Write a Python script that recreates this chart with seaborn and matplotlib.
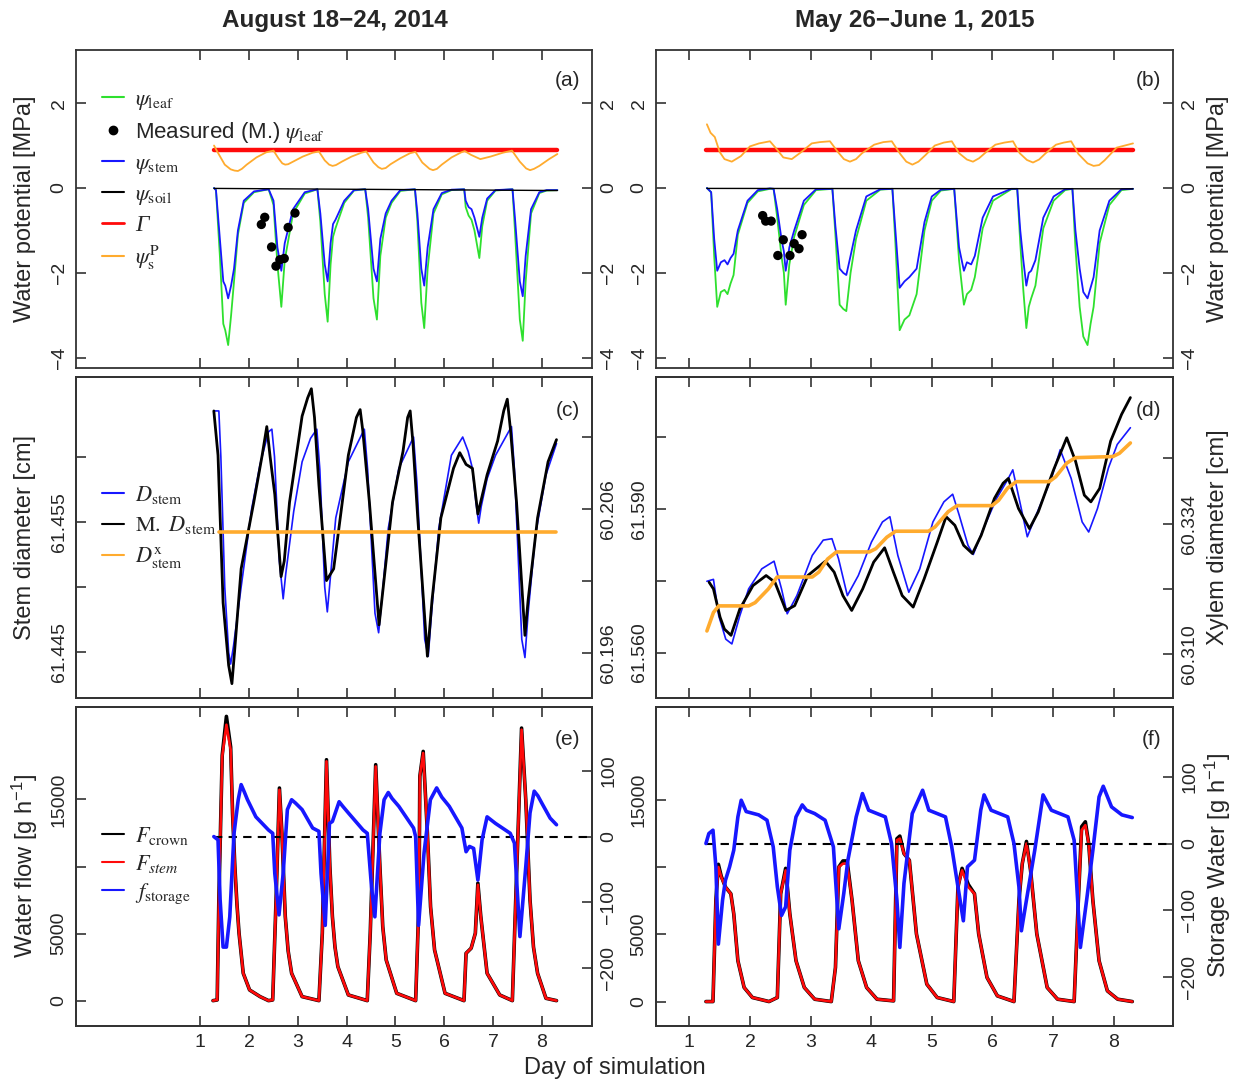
import matplotlib
matplotlib.use('agg')
import matplotlib.pyplot as plt
from matplotlib.lines import Line2D
import seaborn as sns

# ---------------- (a) August 2014, water potential [MPa] ----------------
a_day = [1.28, 1.32, 1.40, 1.47, 1.51, 1.57, 1.63, 1.69, 1.77, 1.89, 2.10, 2.40,
         2.50, 2.58, 2.66, 2.73, 2.90, 3.14, 3.40,
         3.46, 3.55, 3.61, 3.67, 3.72, 3.77, 3.95, 4.15, 4.38,
         4.44, 4.55, 4.62, 4.69, 4.80, 4.92, 5.10, 5.40,
         5.45, 5.53, 5.59, 5.66, 5.78, 5.95, 6.15, 6.41,
         6.44, 6.50, 6.56, 6.62, 6.72, 6.78, 6.88, 7.05, 7.40,
         7.45, 7.55, 7.61, 7.67, 7.78, 7.95, 8.10, 8.32]
a_stem = [0, -0.05, -1.2, -2.2, -2.3, -2.6, -2.3, -1.9, -1.0, -0.3, -0.08, -0.03,
          -0.3, -1.4, -1.95, -1.3, -0.5, -0.1, -0.03,
          -0.6, -1.8, -2.2, -1.3, -0.85, -0.75, -0.3, -0.05, -0.03,
          -0.5, -1.9, -2.2, -1.2, -0.6, -0.3, -0.05, -0.03,
          -0.6, -1.9, -2.3, -1.4, -0.5, -0.12, -0.04, -0.03,
          -0.3, -0.45, -0.5, -0.7, -1.15, -0.7, -0.25, -0.05, -0.03,
          -0.7, -2.2, -2.55, -1.6, -0.5, -0.1, -0.05, -0.05]
a_leaf = [0, -0.05, -1.6, -3.2, -3.35, -3.7, -3.0, -2.2, -1.1, -0.35, -0.1, -0.03,
          -0.4, -1.8, -2.8, -1.7, -0.6, -0.13, -0.03,
          -0.8, -2.5, -3.15, -1.8, -1.15, -0.95, -0.35, -0.06, -0.03,
          -0.7, -2.6, -3.1, -1.6, -0.7, -0.35, -0.07, -0.03,
          -0.8, -2.7, -3.3, -1.9, -0.6, -0.15, -0.05, -0.03,
          -0.45, -0.65, -0.75, -1.0, -1.65, -0.9, -0.3, -0.06, -0.03,
          -1.0, -3.1, -3.6, -2.2, -0.6, -0.12, -0.06, -0.05]
a_soil_day = [1.28, 8.32]
a_soil = [-0.01, -0.06]
a_gamma_day = [1.28, 8.32]
a_gamma = [0.89, 0.89]
a_psp_day = [1.28, 1.35, 1.50, 1.62, 1.70, 1.77, 1.85, 1.95, 2.15, 2.35, 2.50, 2.60, 2.68,
             2.74, 2.80, 2.90, 3.10, 3.30, 3.43, 3.55, 3.64, 3.71, 3.78, 3.90, 4.10, 4.30,
             4.40, 4.55, 4.65, 4.72, 4.80, 4.90, 5.10, 5.30, 5.41, 5.55, 5.70, 5.77, 5.85,
             5.95, 6.15, 6.35, 6.42, 6.55, 6.74, 6.95, 7.20, 7.39, 7.55, 7.68, 7.76, 7.84,
             7.95, 8.15, 8.32]
a_psp = [1.0, 0.85, 0.55, 0.44, 0.41, 0.40, 0.45, 0.55, 0.72, 0.84, 0.88, 0.70, 0.58,
         0.55, 0.56, 0.62, 0.74, 0.83, 0.86, 0.65, 0.55, 0.52, 0.54, 0.62, 0.74, 0.83,
         0.86, 0.60, 0.49, 0.45, 0.47, 0.56, 0.70, 0.82, 0.85, 0.60, 0.45, 0.42, 0.45,
         0.55, 0.72, 0.84, 0.87, 0.78, 0.68, 0.74, 0.83, 0.88, 0.62, 0.46, 0.42, 0.45,
         0.52, 0.68, 0.80]
a_meas_day = [2.25, 2.32, 2.46, 2.55, 2.63, 2.72, 2.80, 2.94]
a_meas = [-0.86, -0.69, -1.39, -1.84, -1.69, -1.66, -0.93, -0.59]

# ---------------- (b) May/June 2015, water potential [MPa] ----------------
b_day = [1.29, 1.36, 1.41, 1.46, 1.52, 1.58, 1.63, 1.68, 1.73, 1.80, 1.96, 2.13, 2.33, 2.39,
         2.45, 2.52, 2.56, 2.59, 2.65, 2.73, 2.89, 3.09, 3.36,
         3.41, 3.48, 3.54, 3.59, 3.66, 3.75, 3.92, 4.15, 4.35,
         4.40, 4.47, 4.55, 4.63, 4.75, 4.88, 5.00, 5.15, 5.37,
         5.45, 5.53, 5.58, 5.65, 5.71, 5.84, 6.01, 6.31, 6.41,
         6.46, 6.51, 6.56, 6.60, 6.64, 6.71, 6.84, 7.01, 7.20, 7.32,
         7.37, 7.44, 7.50, 7.57, 7.62, 7.67, 7.77, 7.93, 8.13, 8.32]
b_stem = [0, -0.1, -1.2, -1.95, -1.75, -1.7, -1.8, -1.65, -1.55, -1.0, -0.3, -0.05, -0.01, -0.02,
          -0.5, -1.2, -1.5, -1.95, -1.4, -1.0, -0.3, -0.03, -0.02,
          -0.9, -1.9, -2.0, -2.05, -1.6, -1.0, -0.2, -0.03, -0.02,
          -1.0, -2.35, -2.2, -2.1, -1.9, -0.8, -0.2, -0.04, -0.02,
          -1.4, -1.95, -1.75, -1.8, -1.6, -0.7, -0.2, -0.02, -0.02,
          -1.0, -1.7, -2.3, -2.0, -1.95, -1.7, -0.7, -0.2, -0.03, -0.02,
          -1.0, -1.9, -2.45, -2.6, -2.35, -2.1, -1.0, -0.3, -0.03, -0.02]
b_leaf = [0, -0.1, -1.6, -2.8, -2.45, -2.4, -2.5, -2.25, -2.05, -1.1, -0.35, -0.08, -0.02, -0.02,
          -0.7, -1.6, -2.0, -2.75, -1.8, -1.15, -0.4, -0.05, -0.02,
          -1.1, -2.75, -2.85, -2.9, -2.0, -1.2, -0.3, -0.04, -0.02,
          -1.3, -3.35, -3.1, -3.0, -2.5, -1.0, -0.3, -0.06, -0.02,
          -1.7, -2.75, -2.5, -2.4, -2.1, -0.95, -0.3, -0.03, -0.02,
          -1.3, -2.4, -3.3, -2.8, -2.6, -2.3, -0.95, -0.3, -0.05, -0.02,
          -1.4, -2.8, -3.5, -3.7, -3.2, -2.8, -1.3, -0.4, -0.05, -0.02]
b_soil_day = [1.29, 8.32]
b_soil = [-0.01, -0.02]
b_gamma_day = [1.27, 8.32]
b_gamma = [0.89, 0.89]
b_psp_day = [1.29, 1.35, 1.42, 1.50, 1.58, 1.70, 1.85, 2.00, 2.15, 2.33, 2.45, 2.55, 2.69,
             2.85, 3.02, 3.15, 3.32, 3.45, 3.55, 3.65, 3.75, 3.85, 4.05, 4.20, 4.34, 4.48,
             4.58, 4.68, 4.78, 4.90, 5.05, 5.20, 5.33, 5.45, 5.58, 5.68, 5.78, 5.90, 6.05,
             6.20, 6.34, 6.45, 6.57, 6.67, 6.77, 6.88, 7.05, 7.18, 7.30, 7.42, 7.57, 7.67,
             7.76, 7.85, 8.05, 8.32]
b_psp = [1.5, 1.3, 1.2, 0.85, 0.68, 0.62, 0.75, 0.98, 1.05, 1.1, 0.9, 0.72, 0.68,
         0.85, 1.05, 1.08, 1.1, 0.85, 0.68, 0.62, 0.68, 0.82, 1.02, 1.08, 1.1, 0.8,
         0.62, 0.55, 0.62, 0.78, 1.0, 1.07, 1.1, 0.82, 0.67, 0.62, 0.70, 0.85, 1.02,
         1.07, 1.1, 0.82, 0.66, 0.60, 0.67, 0.82, 1.02, 1.07, 1.1, 0.8, 0.58, 0.52,
         0.54, 0.65, 0.95, 1.05]
b_meas_day = [2.21, 2.26, 2.35, 2.46, 2.55, 2.66, 2.73, 2.81, 2.86]
b_meas = [-0.65, -0.78, -0.78, -1.59, -1.22, -1.59, -1.31, -1.43, -1.10]

# ---------------- (c) stem diameter 2014 [cm] ----------------
c_model_day = [1.276, 1.379, 1.42, 1.50, 1.58, 1.621, 1.68, 1.836, 2.052, 2.224, 2.397, 2.466,
               2.52, 2.62, 2.698, 2.75, 2.914, 3.086, 3.259, 3.388, 3.45, 3.55, 3.603, 3.66,
               3.776, 4.034, 4.362, 4.43, 4.58, 4.655, 4.72, 4.853, 5.069, 5.371, 5.44, 5.60,
               5.672, 5.74, 5.888, 6.147, 6.379, 6.491, 6.578, 6.65, 6.707, 6.76, 6.879, 7.052,
               7.379, 7.44, 7.59, 7.655, 7.72, 7.871, 8.086, 8.302]
c_model = [61.4635, 61.4635, 61.4600, 61.4500, 61.4450, 61.4441, 61.4455, 61.4500, 61.4560,
           61.4594, 61.4619, 61.4621, 61.4600, 61.4520, 61.4491, 61.4510, 61.4558, 61.4596,
           61.4614, 61.4621, 61.4590, 61.4500, 61.4481, 61.4505, 61.4553, 61.4596, 61.4621,
           61.4590, 61.4480, 61.4465, 61.4490, 61.4545, 61.4591, 61.4615, 61.4580, 61.4460,
           61.4447, 61.4480, 61.4545, 61.4601, 61.4615, 61.4604, 61.4591, 61.4565, 61.4549,
           61.4562, 61.4583, 61.4601, 61.4623, 61.4590, 61.4460, 61.4446, 61.4480, 61.4540,
           61.4586, 61.4610]
c_meas_day = [1.276, 1.362, 1.466, 1.58, 1.647, 1.70, 1.836, 2.095, 2.267, 2.362, 2.43, 2.526,
              2.655, 2.72, 2.828, 3.086, 3.20, 3.276, 3.34, 3.431, 3.586, 3.733, 4.034, 4.20,
              4.276, 4.33, 4.466, 4.664, 4.75, 4.940, 5.155, 5.25, 5.302, 5.36, 5.457, 5.655,
              5.75, 5.931, 6.190, 6.319, 6.448, 6.578, 6.690, 6.879, 7.095, 7.22, 7.293, 7.36,
              7.483, 7.655, 7.72, 7.914, 8.129, 8.302]
c_meas = [61.4635, 61.4601, 61.4488, 61.4440, 61.4426, 61.4450, 61.4514, 61.4565, 61.4601,
          61.4623, 61.4600, 61.4571, 61.4508, 61.4520, 61.4565, 61.4631, 61.4645, 61.4652,
          61.4630, 61.4578, 61.4505, 61.4514, 61.4601, 61.4630, 61.4636, 61.4620, 61.4565,
          61.4471, 61.4500, 61.4565, 61.4604, 61.4630, 61.4635, 61.4610, 61.4553, 61.4447,
          61.4490, 61.4553, 61.4591, 61.4603, 61.4594, 61.4591, 61.4556, 61.4586, 61.4612,
          61.4635, 61.4644, 61.4620, 61.4565, 61.4463, 61.4490, 61.4553, 61.4596, 61.4613]
c_xylem_day = [1.38, 8.30]
c_xylem = [60.2044, 60.2044]

# ---------------- (d) stem diameter 2015 [cm] ----------------
d_model_day = [1.290, 1.398, 1.485, 1.601, 1.702, 1.833, 1.978, 2.195, 2.398, 2.521, 2.615,
               2.774, 3.028, 3.209, 3.353, 3.462, 3.607, 3.788, 4.005, 4.186, 4.309, 4.440,
               4.621, 4.802, 5.019, 5.200, 5.345, 5.453, 5.598, 5.685, 5.852, 6.069, 6.250,
               6.337, 6.453, 6.576, 6.720, 6.974, 7.119, 7.300, 7.481, 7.589, 7.734, 7.915,
               8.060, 8.277]
d_model = [61.5749, 61.5753, 61.5677, 61.5628, 61.5618, 61.5677, 61.5733, 61.5775, 61.5791,
           61.5733, 61.5681, 61.5719, 61.5803, 61.5835, 61.5838, 61.5796, 61.5719, 61.5761,
           61.5831, 61.5873, 61.5884, 61.5803, 61.5726, 61.5775, 61.5873, 61.5915, 61.5931,
           61.5887, 61.5824, 61.5805, 61.5859, 61.5922, 61.5961, 61.5982, 61.5915, 61.5842,
           61.5887, 61.5964, 61.6024, 61.5964, 61.5873, 61.5852, 61.5901, 61.5986, 61.6035,
           61.6070]
d_meas_day = [1.326, 1.398, 1.507, 1.579, 1.688, 1.833, 2.050, 2.267, 2.412, 2.593, 2.738,
              2.955, 3.245, 3.390, 3.534, 3.679, 3.860, 4.041, 4.222, 4.367, 4.512, 4.693,
              4.874, 5.091, 5.236, 5.381, 5.526, 5.671, 5.815, 6.033, 6.177, 6.264, 6.431,
              6.612, 6.757, 7.010, 7.227, 7.372, 7.517, 7.625, 7.770, 7.951, 8.132, 8.277]
d_meas = [61.5747, 61.5733, 61.5674, 61.5649, 61.5636, 61.5691, 61.5740, 61.5761, 61.5747,
          61.5688, 61.5698, 61.5761, 61.5791, 61.5768, 61.5719, 61.5688, 61.5733, 61.5789,
          61.5819, 61.5768, 61.5719, 61.5695, 61.5754, 61.5831, 61.5884, 61.5866, 61.5824,
          61.5807, 61.5845, 61.5922, 61.5954, 61.5964, 61.5901, 61.5859, 61.5894, 61.5982,
          61.6049, 61.6000, 61.5929, 61.5915, 61.5943, 61.6042, 61.6098, 61.6133]
d_xylem_day = [1.290, 1.398, 1.485, 1.978, 2.086, 2.303, 2.448, 3.028, 3.136, 3.281, 3.426,
               3.969, 4.077, 4.258, 4.403, 4.946, 5.055, 5.272, 5.417, 5.996, 6.105, 6.250,
               6.395, 6.938, 7.046, 7.227, 7.372, 7.987, 8.096, 8.277]
d_xylem = [60.3143, 60.3177, 60.3189, 60.3189, 60.3195, 60.3220, 60.3242, 60.3242, 60.3251,
           60.3275, 60.3288, 60.3288, 60.3294, 60.3315, 60.3326, 60.3326, 60.3334, 60.3362,
           60.3373, 60.3373, 60.3383, 60.3405, 60.3417, 60.3417, 60.3426, 60.3451, 60.3461,
           60.3463, 60.3469, 60.3488]

# ---------------- (e) water flow 2014 [g h-1] ----------------
e_flow_day = [1.259, 1.345, 1.379, 1.448, 1.534, 1.621, 1.66, 1.707, 1.75, 1.793, 1.879, 2.009,
              2.224, 2.397, 2.483, 2.552, 2.621, 2.672, 2.741, 2.80, 2.871, 3.086, 3.431, 3.500,
              3.586, 3.655, 3.707, 3.76, 3.819, 4.034, 4.422, 4.483, 4.595, 4.681, 4.74, 4.810,
              5.026, 5.414, 5.483, 5.500, 5.569, 5.655, 5.72, 5.802, 6.017, 6.405, 6.448, 6.552,
              6.638, 6.690, 6.750, 6.879, 7.138, 7.397, 7.466, 7.586, 7.672, 7.759, 7.83, 7.914,
              8.086, 8.302]
e_stem = [0, 50, 7510, 18210, 20570, 18710, 14000, 10000, 7200, 5025, 2040, 796,
          300, 0, 50, 7510, 15720, 12490, 6270, 3700, 2040, 300, 0, 5025,
          17840, 10000, 6270, 4000, 2537, 423, 0, 5025, 17460, 10000, 5500, 3035,
          547, 0, 7510, 16720, 18460, 12490, 7000, 3781, 547, 0, 3532, 3906,
          5025, 8632, 6269, 2040, 423, 0, 7510, 20200, 14980, 7510, 4000, 2040,
          174, 0]
e_crown = [0, 50, 7510, 18300, 21190, 18900, 14000, 10000, 7200, 5025, 2040, 796,
           300, 0, 50, 7510, 15850, 12490, 6270, 3700, 2040, 300, 0, 5025,
           17960, 10000, 6270, 4000, 2537, 423, 0, 5025, 17590, 10000, 5500, 3035,
           547, 0, 7510, 16720, 18580, 12490, 7000, 3781, 547, 0, 3532, 3906,
           5025, 8756, 6269, 2040, 423, 0, 7510, 20320, 14980, 7510, 4000, 2040,
           174, 0]
e_store_day = [1.276, 1.362, 1.405, 1.466, 1.534, 1.603, 1.690, 1.776, 1.836, 1.90, 1.966, 2.138,
               2.397, 2.483, 2.526, 2.612, 2.698, 2.784, 2.871, 2.95, 3.086, 3.302, 3.431, 3.474,
               3.560, 3.647, 3.707, 3.845, 3.92, 4.034, 4.336, 4.422, 4.509, 4.578, 4.681, 4.767,
               4.853, 4.93, 5.069, 5.371, 5.414, 5.474, 5.586, 5.716, 5.845, 5.95, 6.103, 6.362,
               6.448, 6.517, 6.603, 6.690, 6.776, 6.879, 7.052, 7.353, 7.440, 7.552, 7.672, 7.759,
               7.845, 7.92, 8.000, 8.172, 8.302]
e_store = [0, -5, -96, -168, -168, -122, 5, 56, 79, 68, 56, 30,
           10, 5, -56, -119, -56, 41, 56, 51, 41, 13, 8, -56,
           -135, 20, 23, 53, 46, 36, 10, 5, -76, -122, 5, 56,
           67, 58, 46, 13, 0, -135, -25, 56, 74, 60, 46, 13,
           -23, -15, -18, -66, -5, 30, 20, 5, -10, -152, -46, 36,
           69, 62, 51, 28, 18]
e_zero_day = [1.28, 9.1]
e_zero = [0, 0]

# ---------------- (f) water flow 2015 [g h-1] ----------------
f_flow_day = [1.274, 1.390, 1.438, 1.479, 1.527, 1.596, 1.685, 1.733, 1.801, 1.904, 2.041,
              2.315, 2.452, 2.507, 2.589, 2.658, 2.760, 2.897, 3.068, 3.342, 3.411, 3.466,
              3.534, 3.603, 3.685, 3.788, 3.925, 4.096, 4.370, 4.425, 4.473, 4.541, 4.630,
              4.747, 4.918, 5.089, 5.363, 5.432, 5.500, 5.603, 5.705, 5.774, 5.911, 6.082,
              6.356, 6.438, 6.493, 6.562, 6.630, 6.733, 6.904, 7.075, 7.349, 7.418, 7.473,
              7.534, 7.589, 7.658, 7.760, 7.897, 8.068, 8.308]
f_stem = [0, 0, 7510, 10000, 9250, 8510, 8010, 6520, 3035, 1045, 300,
          0, 300, 8010, 9750, 6520, 3035, 1045, 174, 0, 2537, 10000,
          10250, 10250, 7510, 3035, 1045, 174, 50, 11990, 12110, 11000, 10500,
          5025, 1294, 300, 0, 8510, 9750, 8510, 8010, 5025, 1791, 423,
          0, 7510, 10250, 11740, 9750, 5025, 1045, 174, 0, 7510, 12740,
          13110, 11740, 7510, 3035, 796, 174, 0]
f_crown = [0, 0, 7510, 10200, 9300, 8510, 8010, 6520, 3035, 1045, 300,
           0, 300, 8010, 9900, 6520, 3035, 1045, 174, 0, 2537, 10000,
           10450, 10450, 7510, 3035, 1045, 174, 50, 12100, 12300, 11000, 10500,
           5025, 1294, 300, 0, 8510, 9900, 8700, 8010, 5025, 1791, 423,
           0, 7510, 10250, 11900, 9750, 5025, 1045, 174, 0, 7510, 13000,
           13360, 11740, 7510, 3035, 796, 174, 0]
f_store_day = [1.274, 1.322, 1.390, 1.438, 1.479, 1.548, 1.596, 1.664, 1.733, 1.801, 1.856,
               1.938, 2.144, 2.281, 2.384, 2.452, 2.521, 2.589, 2.658, 2.760, 2.863, 2.932,
               3.068, 3.240, 3.377, 3.466, 3.548, 3.616, 3.753, 3.856, 3.959, 4.233, 4.336,
               4.425, 4.473, 4.541, 4.678, 4.849, 4.952, 5.226, 5.329, 5.432, 5.521, 5.589,
               5.705, 5.808, 5.863, 5.979, 6.253, 6.356, 6.438, 6.479, 6.562, 6.699, 6.836,
               6.973, 7.247, 7.349, 7.452, 7.555, 7.658, 7.760, 7.829, 7.966, 8.137, 8.308]
f_store = [0, 15, 20, -35, -151, -85, -55, -35, -10, 40, 65,
           48, 43, 35, -5, -65, -108, -95, -10, 40, 58, 50,
           45, 35, -5, -128, -75, -25, 40, 75, 50, 40, 0,
           -85, -156, -60, 45, 80, 50, 40, -5, -65, -116, -35,
           -25, 50, 73, 50, 40, 0, -65, -131, -85, -10, 73,
           50, 40, 5, -156, -85, -10, 70, 86, 55, 43, 39]
f_zero_day = [1.27, 9.1]
f_zero = [0, 0]

day_ticks = [1, 2, 3, 4, 5, 6, 7, 8]

GREEN = '#2ee02e'
BLUE = '#1717ff'
RED = '#ff0a0a'
ORANGE = '#ffab2e'
SPINE = '#333333'

sns.set_style('ticks')
plt.rcParams['font.family'] = ['Liberation Sans', 'DejaVu Sans']
plt.rcParams['mathtext.fontset'] = 'stix'

W, H = 1250, 1086
fig = plt.figure(figsize=(W / 100, H / 100), dpi=100)


def add_ax(x0, y0, x1, y1):
    return fig.add_axes([x0 / W, 1 - y1 / H, (x1 - x0) / W, (y1 - y0) / H])


def line(ax, x, y, color, lw, **kw):
    sns.lineplot(x=x, y=y, ax=ax, color=color, linewidth=lw, sort=False,
                 estimator=None, **kw)


def style_y(ax, ticks, labels, lim):
    ax.set_ylim(*lim)
    ax.set_yticks(ticks)
    ax.set_yticklabels(labels)
    ax.tick_params(axis='y', direction='in', length=7, width=1.2, color=SPINE,
                   labelsize=14, pad=6, labelrotation=90)
    for lab in ax.get_yticklabels():
        lab.set_va('center')


def style_x(ax, xlim, labels):
    ax.set_xlim(*xlim)
    ax.set_xticks(day_ticks)
    ax.tick_params(axis='x', direction='in', length=7, width=1.2, color=SPINE,
                   labelsize=14, pad=6, top=True, bottom=True, labelbottom=labels)
    for s in ax.spines.values():
        s.set_color(SPINE)
        s.set_linewidth(1.3)
        s.set_visible(True)


def legend(ax, handles, labels, anchor, spacing):
    return ax.legend(handles, labels, loc='upper left', bbox_to_anchor=anchor,
                     frameon=False, fontsize=16, handlelength=1.0, handletextpad=0.5,
                     labelspacing=spacing, borderpad=0, borderaxespad=0)


cols = [(76, 592, (-1.55, 9.03)), (656, 1173, (0.45, 8.98))]
rows = [(50, 368), (377, 698), (707, 1026)]

psi_ticks = [-4, -2, 0, 2]
psi_labels = ['\u22124', '\u22122', '0', '2']
psi_lim = (-4.24, 3.25)

# ---- row 1: water potential ----
for (x0, x1, xl), day, leaf, stem, soil_d, soil, gam_d, gam, psp_d, psp, md, mv, tag in [
        (cols[0], a_day, a_leaf, a_stem, a_soil_day, a_soil, a_gamma_day, a_gamma,
         a_psp_day, a_psp, a_meas_day, a_meas, '(a)'),
        (cols[1], b_day, b_leaf, b_stem, b_soil_day, b_soil, b_gamma_day, b_gamma,
         b_psp_day, b_psp, b_meas_day, b_meas, '(b)')]:
    ax = add_ax(x0, rows[0][0], x1, rows[0][1])
    line(ax, day, leaf, GREEN, 1.3)
    line(ax, day, stem, BLUE, 1.3)
    line(ax, soil_d, soil, 'black', 1.0)
    line(ax, gam_d, gam, RED, 3.2)
    line(ax, psp_d, psp, ORANGE, 1.3)
    sns.scatterplot(x=md, y=mv, ax=ax, color='black', s=45, edgecolor='none', zorder=5)
    style_x(ax, xl, False)
    style_y(ax, psi_ticks, psi_labels, psi_lim)
    ax.tick_params(axis='y', right=True, labelright=True)
    for lab in ax.get_yticklabels():
        lab.set_va('center')
    ax.text(0.977, 0.905, tag, transform=ax.transAxes, ha='right', va='center', fontsize=15)
    if tag == '(a)':
        handles = [Line2D([], [], color=GREEN, lw=1.5),
                   Line2D([], [], color='black', marker='o', ls='none', ms=6),
                   Line2D([], [], color=BLUE, lw=1.5),
                   Line2D([], [], color='black', lw=1.5),
                   Line2D([], [], color=RED, lw=2),
                   Line2D([], [], color=ORANGE, lw=1.5)]
        labels = [r'$\psi_{\mathrm{leaf}}$', r'Measured (M.) $\psi_{\mathrm{leaf}}$',
                  r'$\psi_{\mathrm{stem}}$', r'$\psi_{\mathrm{soil}}$',
                  '\u0393', r'$\psi_{\mathrm{s}}^{\mathrm{P}}$']
        leg = legend(ax, handles, labels, (0.05, 0.878), 0.36)
        gamma_txt = leg.get_texts()[4]
        gamma_txt.set_fontfamily('Liberation Serif')
        gamma_txt.set_fontstyle('italic')
        gamma_txt.set_fontsize(17)

# ---- row 2: stem diameter ----
diam_specs = [
    (cols[0], c_model_day, c_model, c_meas_day, c_meas, c_xylem_day, c_xylem, '(c)',
     [61.445, 61.450, 61.455, 61.460], ['61.445', '', '61.455', ''], (61.4415, 61.4661),
     [60.196, 60.201, 60.206, 60.211], ['60.196', '', '60.206', ''], (60.19285, 60.2152)),
    (cols[1], d_model_day, d_model, d_meas_day, d_meas, d_xylem_day, d_xylem, '(d)',
     [61.560, 61.575, 61.590, 61.605], ['61.560', '', '61.590', ''], (61.5505, 61.6176),
     [60.310, 60.322, 60.334, 60.346], ['60.310', '', '60.334', ''], (60.302, 60.3609)),
]
for (x0, x1, xl), md, mv, sd, sv, xd, xv, tag, lt, ll, llim, rt, rl, rlim in diam_specs:
    ax = add_ax(x0, rows[1][0], x1, rows[1][1])
    line(ax, md, mv, BLUE, 1.2)
    line(ax, sd, sv, 'black', 2.0)
    style_x(ax, xl, False)
    style_y(ax, lt, ll, llim)
    ax2 = ax.twinx()
    line(ax2, xd, xv, ORANGE, 2.6)
    style_y(ax2, rt, rl, rlim)
    ax2.set_xlim(*xl)
    for s in ax2.spines.values():
        s.set_color(SPINE)
        s.set_linewidth(1.3)
    ax2.text(0.977, 0.897, tag, transform=ax2.transAxes, ha='right', va='center', fontsize=15)
    if tag == '(c)':
        handles = [Line2D([], [], color=BLUE, lw=1.5),
                   Line2D([], [], color='black', lw=1.5),
                   Line2D([], [], color=ORANGE, lw=1.5)]
        labels = [r'$D_{\mathrm{stem}}$', r'$\mathrm{M.}\ D_{\mathrm{stem}}$',
                  r'$D_{\mathrm{stem}}^{\mathrm{x}}$']
        legend(ax2, handles, labels, (0.05, 0.668), 0.4)

# ---- row 3: water flow ----
flow_specs = [
    (cols[0], e_flow_day, e_crown, e_stem, e_store_day, e_store, e_zero_day, e_zero, '(e)',
     (-1891, 21891), (-288, 197)),
    (cols[1], f_flow_day, f_crown, f_stem, f_store_day, f_store, f_zero_day, f_zero, '(f)',
     (-1816, 21891), (-274, 205)),
]
for (x0, x1, xl), fd, fc, fs, sd, sv, zd, zv, tag, llim, rlim in flow_specs:
    ax = add_ax(x0, rows[2][0], x1, rows[2][1])
    line(ax, fd, fc, 'black', 2.6)
    line(ax, fd, fs, RED, 1.9)
    style_x(ax, xl, True)
    style_y(ax, [0, 5000, 10000, 15000], ['0', '5000', '', '15000'], llim)
    ax2 = ax.twinx()
    line(ax2, zd, zv, 'black', 1.5, linestyle=(0, (4, 3)))
    line(ax2, sd, sv, BLUE, 2.6)
    style_y(ax2, [-200, -100, 0, 100], ['\u2212200', '\u2212100', '0', '100'], rlim)
    ax2.set_xlim(*xl)
    for s in ax2.spines.values():
        s.set_color(SPINE)
        s.set_linewidth(1.3)
    ax2.text(0.977, 0.897, tag, transform=ax2.transAxes, ha='right', va='center', fontsize=15)
    if tag == '(e)':
        handles = [Line2D([], [], color='black', lw=1.5),
                   Line2D([], [], color=RED, lw=1.5),
                   Line2D([], [], color=BLUE, lw=1.5)]
        labels = [r'$F_{\mathrm{crown}}$', r'$F_{stem}$', r'$f_{\mathrm{storage}}$']
        legend(ax2, handles, labels, (0.05, 0.63), 0.27)

# ---- figure texts ----
fig.text(335 / W, 1 - 20 / H, 'August 18\u221224, 2014', ha='center', va='center',
         fontsize=17.5, fontweight='bold')
fig.text(915 / W, 1 - 20 / H, 'May 26\u2212June 1, 2015', ha='center', va='center',
         fontsize=17.5, fontweight='bold')
fig.text(615 / W, 1 - 1068 / H, 'Day of simulation', ha='center', va='center', fontsize=17)

for yc, txt in [(209, 'Water potential [MPa]'), (537, 'Stem diameter [cm]'),
                (866, 'Water flow [g h$\\mathregular{^{-1}}$]')]:
    fig.text(25 / W, 1 - yc / H, txt, rotation=90, ha='center', va='center', fontsize=17)
for yc, txt in [(209, 'Water potential [MPa]'), (537, 'Xylem diameter [cm]'),
                (866, 'Storage Water [g h$\\mathregular{^{-1}}$]')]:
    fig.text(1218 / W, 1 - yc / H, txt, rotation=90, ha='center', va='center', fontsize=17)

fig.savefig('out.png', dpi=100)
